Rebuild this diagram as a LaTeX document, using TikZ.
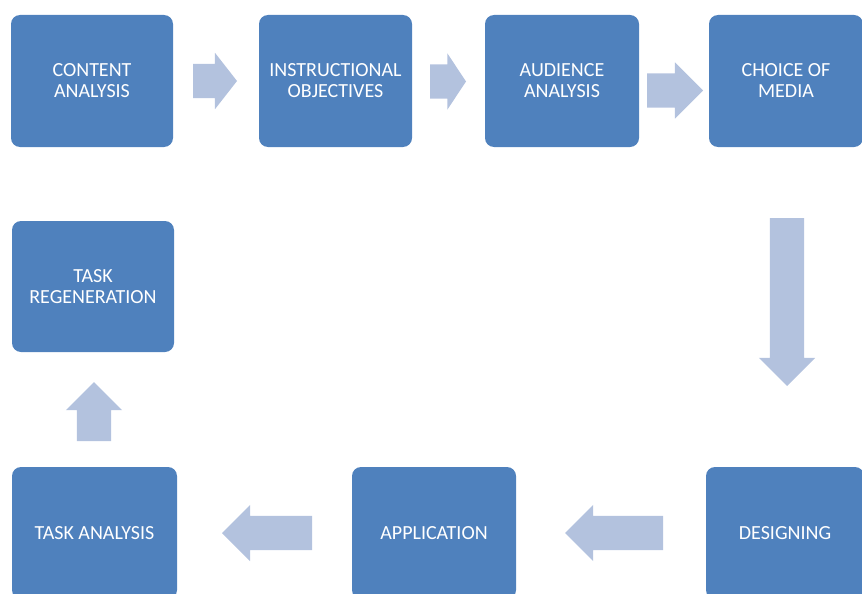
\documentclass[tikz,border=0pt]{standalone}
\usepackage{fontspec}
\setmainfont{Carlito}
\usetikzlibrary{shapes.arrows}
\definecolor{boxblue}{HTML}{4F81BD}
\definecolor{flowblue}{HTML}{B3C2DE}
\tikzset{
  box/.style={rectangle, rounded corners=9pt, fill=boxblue, text=white, align=center,
    inner sep=0pt, minimum height=132pt, font=\fontsize{20}{21}\selectfont},
  flow/.style={single arrow, fill=flowblue, inner xsep=0pt, inner ysep=17pt, outer sep=0pt,
    single arrow head extend=11pt, anchor=tail},
}
\begin{document}
\begin{tikzpicture}[x=1pt,y=-1pt]
			
			\useasboundingbox (0,0) rectangle (862,594);
			\clip (0,0) rectangle (862,594);
			
			% top row
			\node[box, minimum width=162pt] (ca) at (92,81)    {CONTENT\\ANALYSIS};
			\node[box, minimum width=153pt] (io) at (335.5,81) {INSTRUCTIONAL\\OBJECTIVES};
			\node[box, minimum width=154pt] (aa) at (562,81)   {AUDIENCE\\ANALYSIS};
			\node[box, minimum width=154pt] (cm) at (786,81)   {CHOICE OF\\MEDIA};
			%
			\node[box, minimum width=162pt, minimum height=131pt] (tr) at (93,286.5) {TASK\\REGENERATION};
			%
			% bottom row
			\node[box, minimum width=165pt] (ta) at (94.5,533) {TASK ANALYSIS};
			\node[box, minimum width=164pt] (ap) at (434,533)  {APPLICATION};
			\node[box, minimum width=158pt] (de) at (785,533)  {DESIGNING};
			
			% block arrows (placed at their tails)
			\node[flow, minimum height=44pt, single arrow tip angle=104] (a1) at (193,81) {};
			\node[flow, minimum height=36pt, single arrow tip angle=113] (a2) at (430,81.5) {};
			\node[flow, minimum height=56pt] (a3) at (647,90.5) {};
			\node[flow, minimum height=168pt, rotate=-90] (a4) at (787,218) {};
			\node[flow, minimum height=98pt, rotate=180] (a5) at (663,533) {};
			\node[flow, minimum height=90pt, rotate=180] (a6) at (312,533) {};
			\node[flow, minimum height=59pt, rotate=90] (a7) at (94,441) {};
			
\end{tikzpicture}
\end{document}
